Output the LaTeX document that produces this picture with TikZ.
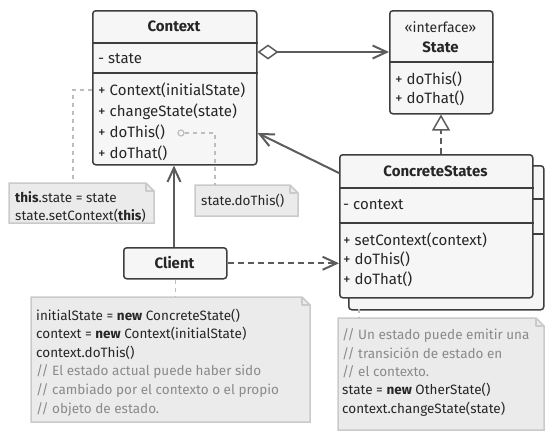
\documentclass[tikz,border=0pt]{standalone}
\usepackage{fontspec}
\setmainfont{Fira Sans}
\usetikzlibrary{arrows.meta,calc}
\definecolor{boxfill}{HTML}{F6F6F6}
\definecolor{boxline}{HTML}{3E3E3E}
\definecolor{conn}{HTML}{5C5C5C}
\definecolor{notefill}{HTML}{EBEBEB}
\definecolor{noteline}{HTML}{CACACA}
\definecolor{notelink}{HTML}{BDBDBD}
\definecolor{commenttext}{HTML}{8A8A8A}
\tikzset{
  umlbox/.style={draw=boxline, fill=boxfill, line width=1.5pt, rounded corners=3pt, inner sep=0pt, anchor=north west},
  sep/.style={draw=boxline, line width=1.5pt},
  % multi-line text nodes are placed by the baseline of their last line
  txt/.style={inner sep=0pt, anchor=base west, align=left, text=black!85, font=\fontsize{15}{21}\selectfont},
  head/.style={inner sep=0pt, anchor=base, font=\fontsize{15}{17}\selectfont\bfseries, text=black!85},
  notetxt/.style={inner sep=0pt, anchor=base west, align=left, text=black!85, font=\fontsize{13.5}{18.5}\selectfont},
  notebox/.style={draw=noteline, fill=notefill, line width=1.5pt},
  notelinkstyle/.style={draw=notelink, line width=1.5pt, dash pattern=on 4pt off 4pt},
  link/.style={draw=conn, line width=2pt},
  openarrow/.style={-{Straight Barb[length=14pt,width=13pt,line width=2pt]}},
}
\newcommand{\cmt}[1]{\textcolor{commenttext}{#1}}
\begin{document}
\begin{tikzpicture}[x=1pt,y=-1pt]
\useasboundingbox (0,0) rectangle (554,432);

% ---------- notes ----------
\newcommand{\notepath}[4]{% x1 y1 x2 y2
  \path[notebox] (#1,#2) -- (#3-8,#2) -- (#3,#2+8) -- (#3,#4) -- (#1,#4) -- cycle;
  \draw[noteline, line width=1.5pt, line join=round] (#3-8,#2) -- (#3-8,#2+8) -- (#3,#2+8);}
\notepath{9}{183}{154}{223}
\node[inner sep=0pt, minimum width=145pt, minimum height=40pt, anchor=north west] (note1) at (9,183) {};
\node[notetxt, font=\fontsize{13.5}{17.5}\selectfont] (note1txt) at (15,220) {\textbf{this}.state = state\\state.setContext(\textbf{this})};

\notepath{195}{185}{298}{216}
\node[inner sep=0pt, minimum width=103pt, minimum height=31pt, anchor=north west] (note2) at (195,185) {};
\node[notetxt] (note2txt) at (201,205) {state.doThis()};

\notepath{31}{297}{310}{422}
\node[inner sep=0pt, minimum width=279pt, minimum height=125pt, anchor=north west] (note3) at (31,297) {};
\node[notetxt, font=\fontsize{13.5}{18.6}\selectfont] (note3txt) at (36,413) {initialState = \textbf{new} ConcreteState()\\
context = \textbf{new} Context(initialState)\\
context.doThis()\\
\cmt{// El estado actual puede haber sido}\\
\cmt{// cambiado por el contexto o el propio}\\
\cmt{// objeto de estado.}};

\notepath{338}{318}{544}{430}
\node[inner sep=0pt, minimum width=206pt, minimum height=112pt, anchor=north west] (note4) at (338,318) {};
\node[notetxt, font=\fontsize{13.5}{18.3}\selectfont] (note4txt) at (342,413) {\cmt{// Un estado puede emitir una}\\
\cmt{// transición de estado en}\\
\cmt{// el contexto.}\\
state = \textbf{new} OtherState()\\
context.changeState(state)};

% ---------- Context ----------
\node[umlbox, minimum width=164pt, minimum height=154pt] (ctx) at (92,10) {};
\draw[sep] ($(ctx.north west)+(0,33)$) -- ($(ctx.north east)+(0,33)$);
\draw[sep] ($(ctx.north west)+(0,63)$) -- ($(ctx.north east)+(0,63)$);
\node[head] (ctxname) at (174,31.5) {Context};
\node[txt] (ctxfield) at (98,63) {- state};
\node[txt] (ctxops) at (98,158) {+ Context(initialState)\\+ changeState(state)\\+ doThis()\\+ doThat()};

% ---------- State ----------
\node[umlbox, minimum width=103pt, minimum height=103pt] (st) at (389,10) {};
\draw[sep] ($(st.north west)+(0,52)$) -- ($(st.north east)+(0,52)$);
\node[inner sep=0pt, anchor=base, font=\fontsize{14}{16}\selectfont, text=black!85] (stereo) at (440.5,32) {«interface»};
\node[head] (stname) at (440.5,52.5) {State};
\node[txt, font=\fontsize{15}{19.5}\selectfont] (stops) at (395,103.5) {+ doThis()\\+ doThat()};

% ---------- ConcreteStates (stacked) ----------
\node[umlbox, minimum width=195pt, minimum height=144pt] (csback) at (348,165) {};
\draw[sep] (532,199) -- (543,199);
\draw[sep] (532,234) -- (543,234);
\node[umlbox, minimum width=193pt, minimum height=143pt] (cs) at (339,154) {};
\draw[sep] ($(cs.north west)+(0,34)$) -- ($(cs.north east)+(0,34)$);
\draw[sep] ($(cs.north west)+(0,69)$) -- ($(cs.north east)+(0,69)$);
\node[head] (csname) at (435.5,176.5) {ConcreteStates};
\node[txt] (csfield) at (343,209) {- context};
\node[txt, font=\fontsize{15}{19.5}\selectfont] (csops) at (343,284) {+ setContext(context)\\+ doThis()\\+ doThat()};

% ---------- Client ----------
\node[umlbox, minimum width=103pt, minimum height=31pt] (client) at (123,247) {};
\node[head] (clientname) at (174.5,268.5) {Client};

% ---------- note links ----------
\coordinate (ctorpt) at ($(ctx.north west)+(0,80)$);
\draw[notelinkstyle] (ctorpt) -- (73,90) -- (note1.north -| 73,0);
\node[draw=notelink, line width=1.2pt, circle, inner sep=0pt, minimum size=6pt, fill=boxfill] (dothismark) at (181,133) {};
\draw[notelinkstyle] (dothismark.east) -- (215,133) -- (note2.north -| 215,0);
\draw[notelinkstyle] (client.south) -- (note3.north -| client.south);
\draw[notelinkstyle] (359,309) -- (note4.north -| 359,0);

% ---------- relations ----------
\draw[link, {Diamond[open,length=21pt,width=15pt,line width=1.5pt]}-{Straight Barb[length=14pt,width=13pt,line width=2pt]}]
  ($(ctx.north east)+(0,42)$) -- ($(st.north west)+(0,42)$);
\draw[link, dash pattern=on 6pt off 4pt, -{Triangle[open,length=16pt,width=18pt,line width=1.5pt]}]
  (cs.north -| 441,0) -- (st.south -| 441,0);
\draw[link, openarrow] ($(cs.north west)+(0,19)$) -- ($(ctx.north east)+(0,123)$);
\draw[link, openarrow] (client.north -| 174,0) -- (ctx.south -| 174,0);
\draw[link, dash pattern=on 6pt off 4pt, openarrow] (client.east) -- (client.east -| cs.west);
\end{tikzpicture}
\end{document}
